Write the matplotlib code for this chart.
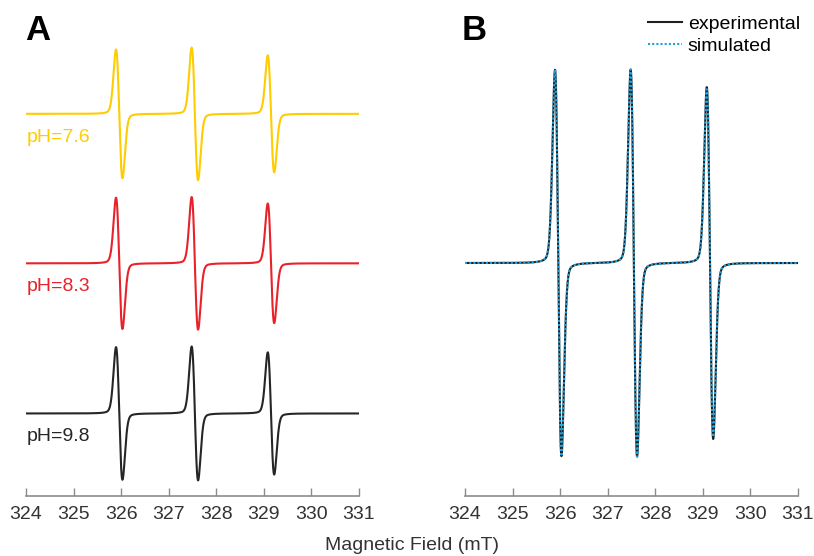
import numpy as np
import matplotlib.pyplot as plt

plt.rcParams["font.family"] = ["Liberation Sans", "DejaVu Sans"]

# --- spettri EPR: tripletto del nitrossido ---
field_min, field_max = 324.0, 331.0
line_centers = [325.96, 327.55, 329.15]  # mT
line_width = 0.135  # mT, larghezza picco-picco
lorentz_frac = 0.12

# pannello A: ampiezze (unità arbitrarie) per pH
ph_labels = ["pH=7.6", "pH=8.3", "pH=9.8"]
ph_colors = ["#FFCC00", "#E8222A", "#262626"]
ph_offsets = [4.61, 2.31, 0.0]
ph_amplitudes = [
    [0.99, 1.02, 0.90],
    [1.01, 1.02, 0.92],
    [1.02, 1.03, 0.94],
]

# pannello B: sperimentale vs simulato
exp_amplitudes = [0.995, 0.996, 0.906]
sim_amplitudes = [0.995, 0.998, 0.895]

C_EXP = "#1f1f1f"
C_SIM = "#1CA3E0"
C_AXIS = "#8c8c8c"


def deriv_line(b, center, width, eta):
    """Derivata di una pseudo-Voigt, normalizzata al massimo positivo."""
    sigma = width / 2.0
    gamma = width * np.sqrt(3) / 2.0
    d = b - center
    g = -d / sigma**2 * np.exp(-d**2 / (2 * sigma**2))
    l = -2 * d / gamma**2 / (1 + (d / gamma) ** 2) ** 2
    g /= np.abs(g).max()
    l /= np.abs(l).max()
    y = eta * l + (1 - eta) * g
    return y / y.max()


def spectrum(b, amplitudes):
    y = np.zeros_like(b)
    for c, a in zip(line_centers, amplitudes):
        y += a * deriv_line(b, c, line_width, lorentz_frac)
    return y


field = np.linspace(field_min, field_max, 3000)

fig = plt.figure(figsize=(8.14, 5.56), dpi=100)
bottom = 1 - 496 / 556
height = (496 - 30) / 556
ax_a = fig.add_axes([26 / 814, bottom, 333 / 814, height])
ax_b = fig.add_axes([465 / 814, bottom, 333 / 814, height])

# --- A ---
for lab, col, off, amps in zip(ph_labels, ph_colors, ph_offsets, ph_amplitudes):
    ax_a.plot(field, spectrum(field, amps) + off, color=col, lw=1.5)
    ax_a.text(324.02, off - 0.36, lab, color=col, fontsize=14,
              ha="left", va="center")
ax_a.set_ylim(-1.27, 5.9)

# --- B ---
ax_b.plot(field, spectrum(field, exp_amplitudes), color=C_EXP, lw=1.5,
          label="experimental")
ax_b.plot(field, spectrum(field, sim_amplitudes), color=C_SIM, lw=1.5,
          linestyle=(0, (1, 1)), label="simulated")
ax_b.set_ylim(-1.2, 1.2)
ax_b.legend(loc="upper right", bbox_to_anchor=(800 / 814, 1 - 15 / 556),
            bbox_transform=fig.transFigure, frameon=False, fontsize=14,
            handlelength=1.75, handletextpad=0.3, labelspacing=0.25,
            borderpad=0, borderaxespad=0)

for ax in (ax_a, ax_b):
    ax.set_xlim(field_min, field_max)
    ax.set_xticks(np.arange(324, 332, 1))
    ax.set_yticks([])
    for s in ("top", "right", "left"):
        ax.spines[s].set_visible(False)
    ax.spines["bottom"].set_color(C_AXIS)
    ax.spines["bottom"].set_linewidth(1.2)
    ax.tick_params(axis="x", direction="in", length=6, width=1.0,
                   color=C_AXIS, labelsize=14, labelcolor="#333333", pad=7)
    ax.patch.set_visible(False)

fig.text(25 / 814, 1 - 31 / 556, "A", fontsize=25, fontweight="bold",
         ha="left", va="center")
fig.text(462 / 814, 1 - 31 / 556, "B", fontsize=25, fontweight="bold",
         ha="left", va="center")
fig.text(412 / 814, 1 - 545 / 556, "Magnetic Field (mT)", fontsize=14,
         color="#333333", ha="center", va="center")

fig.savefig("out.png", dpi=100)
